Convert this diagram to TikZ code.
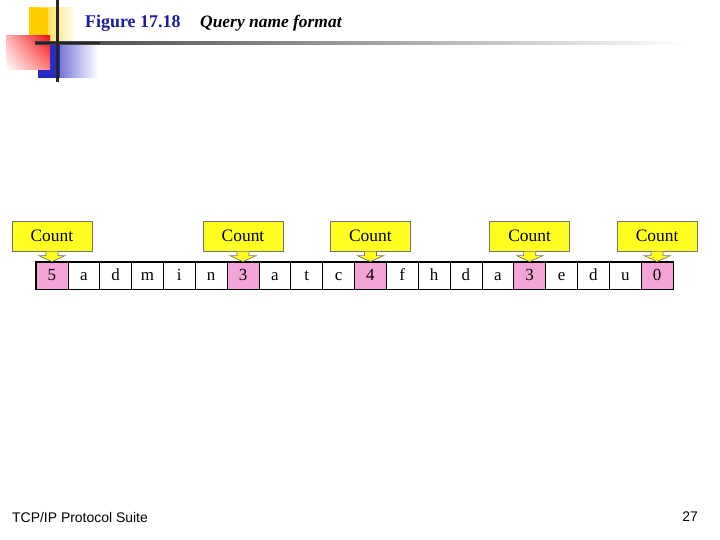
\documentclass[tikz,border=0pt]{standalone}
\usepackage{fontspec}
\setmainfont{Liberation Serif}
\setsansfont{Liberation Sans}
\usetikzlibrary{positioning,shadings}
\definecolor{titleblue}{HTML}{1C1CA0}
\definecolor{countyellow}{HTML}{FFFF22}
\definecolor{countpink}{HTML}{F4A3D6}
\definecolor{logoyellow}{HTML}{FFCC00}
\definecolor{logored}{HTML}{EE1111}
\definecolor{logoblue}{HTML}{2A2AC4}
\tikzset{
  cellbox/.style={
    draw=black,
    fill=white,
    line width=0.7bp,
    minimum width=31.85bp,
    minimum height=27bp,
    inner sep=0pt,
    text height=11.5bp,
    text depth=0.5bp,
    font=\fontsize{17}{17}\selectfont
  },
  countcell/.style={
    cellbox,
    fill=countpink
  },
  countbox/.style={
    draw=black!55,
    fill=countyellow,
    line width=0.7bp,
    minimum width=80bp,
    minimum height=30bp,
    inner sep=0pt,
    font=\fontsize{17.5}{17.5}\selectfont
  },
  countarrow/.style={
    draw=black!55,
    fill=countyellow,
    line width=0.7bp
  },
  plaintext/.style={
    inner sep=0pt
  }
}

\begin{document}
\begin{tikzpicture}[x=1bp, y=-1bp]
    \useasboundingbox (0,0) rectangle (720,540);

    % logo and title rule
    \shade[left color=logoyellow, right color=white] (29,8) rectangle (76,42);
    \fill[logoyellow] (29,8) rectangle (48,42);
    \shade[left color=logoblue, right color=white] (38,43) rectangle (98,78);
    \fill[logoblue] (38,43) rectangle (60,78);
    \shade[upper left=red!30, upper right=logored, lower left=white, lower right=red!50] (6,36) rectangle (50,70);
    \shade[left color=black!75, right color=white] (35,42) rectangle (690,44.5);
    \fill[black!85] (35,42) rectangle (100,44.5);
    \fill[black!85] (55.5,0) rectangle (58.5,82);

    \node[plaintext, anchor=base west, text=titleblue, font=\fontsize{18}{18}\selectfont\bfseries] (fignum) at (85,28) {Figure 17.18};
    \node[plaintext, anchor=base west, font=\fontsize{17.5}{17.5}\selectfont\bfseries\itshape] (figtitle) at (200,28) {Query name format};

    % the name, one octet per cell
    \foreach \ch/\sty [count=\i] in {5/countcell, a/cellbox, d/cellbox, m/cellbox, i/cellbox, n/cellbox,
        3/countcell, a/cellbox, t/cellbox, c/cellbox,
        4/countcell, f/cellbox, h/cellbox, d/cellbox, a/cellbox,
        3/countcell, e/cellbox, d/cellbox, u/cellbox, 0/countcell}
        \node[\sty] (cell\i) at ({36+31.85*(\i-0.5)},275.5) {\ch};

    \draw[line width=1.1bp] (cell1.north west) rectangle (cell20.south east);

    % count callouts
    \foreach \n in {1,7,11,16,20}{
        \node[countbox, above=10bp of cell\n] (count\n) {Count};
        \draw[countarrow] ([xshift=-6bp]count\n.south) -- ++(0,4) -- ++(-7,0) -- (cell\n.north)
            -- ++(13,-6) -- ++(-7,0) -- ++(0,-4);
    }

    \node[plaintext, anchor=base west, font=\sffamily\fontsize{14}{14}\selectfont] (suite) at (12,522) {TCP/IP Protocol Suite};
    \node[plaintext, anchor=base east, font=\sffamily\fontsize{14}{14}\selectfont] (pagenum) at (698,521) {27};
\end{tikzpicture}
\end{document}
